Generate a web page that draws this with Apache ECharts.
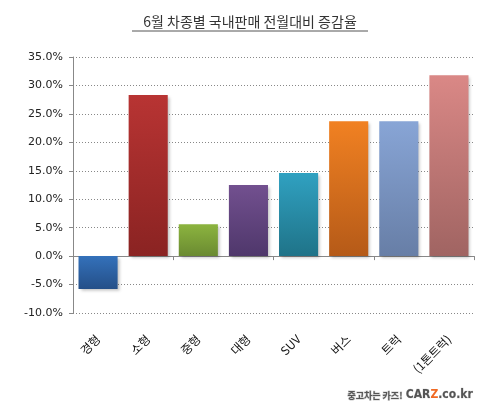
<!DOCTYPE html>
<html>
<head>
<meta charset="UTF-8">
<title>6월 차종별 국내판매 전월대비 증감율</title>
<script type="text/javascript" src="https://cdn.jsdelivr.net/npm/echarts@6/dist/echarts.min.js"></script>
</head>
<body style="margin:0;background:#fff;">
<div id="mychar" style="width:500px;height:409px;"></div>

<script type="text/javascript">
// 차종별 데이터
var categories = ['경형', '소형', '중형', '대형', 'SUV', '버스', '트럭', '(1톤트럭)'];
var rates = [-5.8, 28.3, 5.6, 12.5, 14.6, 23.7, 23.7, 31.8];
var yTicks = [-10, -5, 0, 5, 10, 15, 20, 25, 30, 35];

// 막대 색 (위, 아래)
var barTops = ['#3471ba', '#b83433', '#8cb43f', '#72508f', '#30a1c1', '#f18122', '#88a5d6', '#da8886'];
var barBottoms = ['#244f88', '#8a2322', '#6a8a31', '#4f376b', '#1f7388', '#b55a18', '#677ea6', '#a06462'];

var mychart = echarts.init(document.getElementById('mychar'));

var barData = rates.map(function (v, i) {
  return {
    value: v,
    itemStyle: {
      color: new echarts.graphic.LinearGradient(0, 0, 0, 1, [
        { offset: 0, color: barTops[i] },
        { offset: 1, color: barBottoms[i] }
      ])
    }
  };
});

var option = {
  animation: false,
  backgroundColor: '#fff',
  title: {
    text: '6월 차종별 국내판매 전월대비 증감율',
    left: 'center',
    top: 10,
    textStyle: {
      fontFamily: 'Noto Sans CJK KR',
      fontSize: 14,
      fontWeight: 'normal',
      color: '#333'
    }
  },
  graphic: [
    {
      type: 'line',
      shape: { x1: 132, y1: 31, x2: 368, y2: 31 },
      style: { stroke: '#555', lineWidth: 1 }
    },
    {
      type: 'text',
      right: 27,
      top: 389,
      style: {
        text: '{a|중고차는 카즈!} {b|CAR}{c|Z}{b|.co.kr}',
        rich: {
          a: { fontFamily: 'Noto Sans CJK KR', fontSize: 9, fontWeight: 'bold', fill: '#555', stroke: '#ccc', lineWidth: 1 },
          b: { fontFamily: 'DejaVu Sans Condensed', fontSize: 12, fontWeight: 'bold', fill: '#555', stroke: '#ccc', lineWidth: 0.5 },
          c: { fontFamily: 'DejaVu Sans Condensed', fontSize: 12, fontWeight: 'bold', fill: '#f06a24' }
        }
      }
    }
  ],
  grid: {
    left: 73,
    right: 26,
    top: 57,
    bottom: 96
  },
  xAxis: [
    {
      type: 'category',
      data: categories,
      axisLine: { onZero: true, lineStyle: { color: '#888', width: 1 } },
      axisTick: { show: true, length: 4, alignWithLabel: false, lineStyle: { color: '#888' } },
      axisLabel: { show: false }
    },
    {
      type: 'category',
      data: categories,
      position: 'bottom',
      axisLine: { show: false, onZero: false },
      axisTick: { show: false },
      axisLabel: {
        rotate: 45,
        margin: 24,
        fontFamily: 'Noto Sans CJK KR',
        fontSize: 12,
        color: '#111'
      }
    }
  ],
  yAxis: {
    type: 'value',
    min: yTicks[0],
    max: yTicks[yTicks.length - 1],
    interval: 5,
    axisLine: { show: true, lineStyle: { color: '#888', width: 1 } },
    axisTick: { show: true, length: 4, lineStyle: { color: '#888' } },
    axisLabel: {
      margin: 10,
      fontFamily: 'DejaVu Sans',
      fontSize: 11,
      color: '#222',
      formatter: function (v) { return v.toFixed(1) + '%'; }
    },
    splitLine: {
      show: true,
      lineStyle: { color: '#888', type: [1, 2], width: 1 }
    }
  },
  series: [{
    name: '증감율',
    type: 'bar',
    xAxisIndex: 0,
    barCategoryGap: '22%',
    data: barData,
    itemStyle: {
      shadowBlur: 3,
      shadowOffsetX: 2,
      shadowOffsetY: 2,
      shadowColor: 'rgba(0,0,0,0.25)'
    }
  }]
};

mychart.setOption(option);
</script>
</body>
</html>
